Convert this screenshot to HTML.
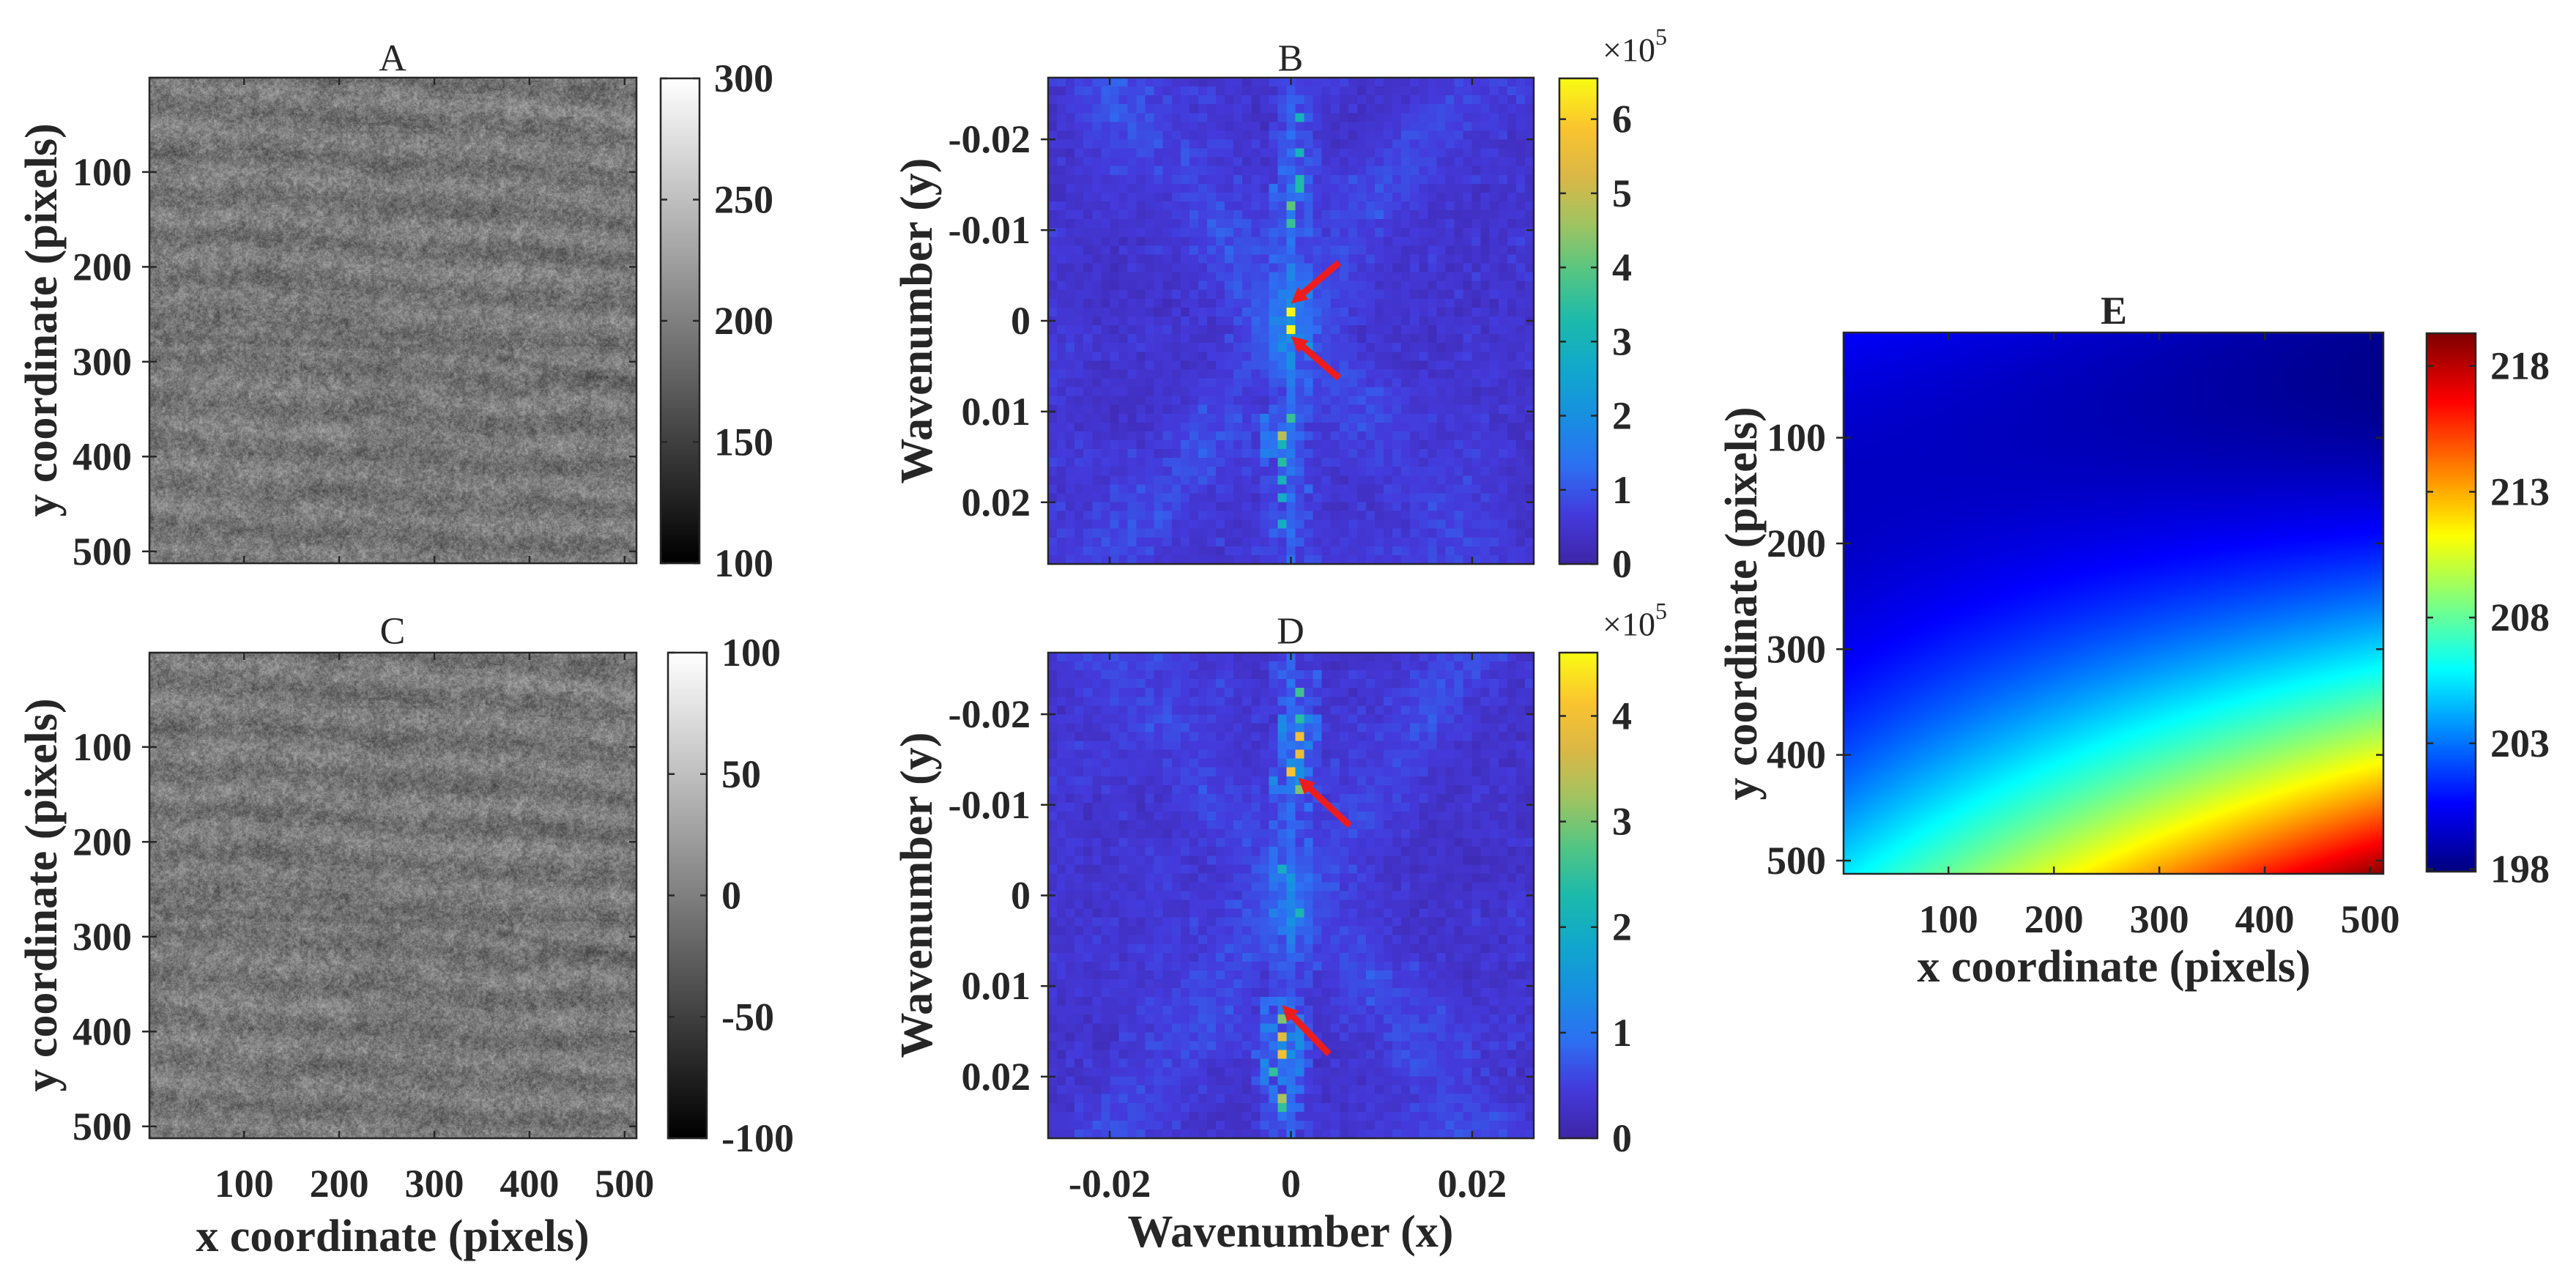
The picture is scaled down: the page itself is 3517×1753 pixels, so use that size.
<!DOCTYPE html>
<html><head><meta charset="utf-8">
<style>
html,body{margin:0;padding:0;background:#fff;}
#root{position:relative;width:3517px;height:1753px;overflow:hidden;background:#fff;font-family:"Liberation Serif",serif;}
canvas{position:absolute;display:block;}
svg{position:absolute;left:0;top:0;}
</style></head>
<body>
<div id="root">
<canvas id="cvA" width="512" height="512" style="left:204px;top:106px;width:665px;height:663px"></canvas>
<canvas id="cvC" width="512" height="512" style="left:204px;top:891px;width:665px;height:663px"></canvas>
<canvas id="cvB" width="55" height="55" style="left:1431px;top:106px;width:663px;height:664px;image-rendering:pixelated"></canvas>
<canvas id="cvD" width="55" height="55" style="left:1431px;top:891px;width:663px;height:663px;image-rendering:pixelated"></canvas>
<canvas id="cvE" width="256" height="256" style="left:2517px;top:454px;width:737px;height:739px"></canvas>
<canvas id="cbA" width="1" height="256" style="left:902px;top:107px;width:53px;height:662px"></canvas>
<canvas id="cbC" width="1" height="256" style="left:912px;top:891px;width:53px;height:663px"></canvas>
<canvas id="cbB" width="1" height="256" style="left:2129px;top:107px;width:52px;height:663px"></canvas>
<canvas id="cbD" width="1" height="256" style="left:2129px;top:891px;width:52px;height:663px"></canvas>
<canvas id="cbE" width="1" height="256" style="left:3313px;top:455px;width:67px;height:735px"></canvas>
<svg id="ov" width="3517" height="1753" viewBox="0 0 3517 1753"></svg>
</div>
<script>
// ---------- data ----------
var pixelTicks = [100, 200, 300, 400, 500];
var waveTicksY = [-0.02, -0.01, 0, 0.01, 0.02];
var waveTicksX = [-0.02, 0, 0.02];
var cbTicksA = [100, 150, 200, 250, 300];
var cbTicksC = [-100, -50, 0, 50, 100];
var cbTicksB = [0, 1, 2, 3, 4, 5, 6];
var cbTicksD = [0, 1, 2, 3, 4];
var cbTicksE = [198, 203, 208, 213, 218];
var rangeB = [0, 6.55];
var rangeD = [0, 4.6];
var rangeE = [197.9, 219.3];
var waveLimit = 0.0268;
// spectral peaks (ky, kx, value x1e5)
var peaksB_ky = [-0.0228, -0.0183, -0.0158, -0.0142, -0.0130, -0.0109, -0.0012, 0.0008, 0.0105, 0.0123, 0.0134, 0.0154, 0.0175, 0.0191, 0.0222];
var peaksB_kx = [0.0005, 0.0005, 0.0005, 0.0005, 0.0000, 0.0000, 0.0000, 0.0000, -0.0001, -0.0010, -0.0010, -0.0010, -0.0010, -0.0010, -0.0010];
var peaksB_val = [3.0, 3.0, 3.3, 3.3, 4.0, 3.6, 6.5, 6.5, 3.6, 4.8, 3.0, 3.4, 3.0, 2.8, 2.8];
var peaksD_ky = [-0.0227, -0.0198, -0.0179, -0.0158, -0.0140, -0.0121, -0.0025, 0.0015, 0.0132, 0.0153, 0.0172, 0.0195, 0.0221, 0.0235];
var peaksD_kx = [0.0007, 0.0012, 0.0007, 0.0007, -0.0003, 0.0007, -0.0010, 0.0007, -0.0010, -0.0010, -0.0010, -0.0015, -0.0010, -0.0010];
var peaksD_val = [2.6, 2.4, 4.0, 3.9, 4.1, 3.0, 2.0, 2.2, 3.0, 3.8, 4.0, 2.5, 3.3, 2.5];
// trend surface coefficients: c0 + c1 u + c2 w + c3 w^2 + c4 u w^1.5
var surfaceCoeffs = [200.5, -2.2, -8.0, 13.0, 15.7];
// arrows [x1,y1,x2(tip),y2(tip)] in data units of the spectra (kx, ky)
var arrowsB = [[0.0053, -0.0064, 0.0000, -0.0019], [0.0053, 0.0063, 0.0000, 0.0017]];
var arrowsD = [[0.0065, -0.0077, 0.0008, -0.0130], [0.0042, 0.0175, -0.0010, 0.0121]];

// ---------- helpers ----------
function hash(i, j, s) { var h = Math.sin(i * 127.1 + j * 311.7 + s * 74.7) * 43758.5453; return h - Math.floor(h); }
function vnoise(x, y, s, sc) {
  var fx = x / sc, fy = y / sc, ix = Math.floor(fx), iy = Math.floor(fy), tx = fx - ix, ty = fy - iy;
  tx = tx * tx * (3 - 2 * tx); ty = ty * ty * (3 - 2 * ty);
  var a = hash(ix, iy, s), b = hash(ix + 1, iy, s), c = hash(ix, iy + 1, s), d = hash(ix + 1, iy + 1, s);
  return (a + (b - a) * tx) + ((c + (d - c) * tx) - (a + (b - a) * tx)) * ty - 0.5;
}
function lerpStops(stops, t) {
  t = Math.max(0, Math.min(1, t));
  for (var k = 1; k < stops.length; k++) {
    if (t <= stops[k][0]) {
      var a = stops[k - 1], b = stops[k], f = (t - a[0]) / (b[0] - a[0]);
      return [a[1] + (b[1] - a[1]) * f, a[2] + (b[2] - a[2]) * f, a[3] + (b[3] - a[3]) * f];
    }
  }
  var l = stops[stops.length - 1]; return [l[1], l[2], l[3]];
}
var parulaStops = [[0, 62, 38, 168], [0.1, 68, 58, 220], [0.2, 45, 112, 242], [0.3, 24, 143, 226], [0.4, 17, 168, 205], [0.5, 28, 186, 172], [0.6, 83, 197, 132], [0.7, 160, 196, 98], [0.8, 219, 184, 70], [0.9, 251, 196, 48], [1, 249, 251, 20]];
var jetStops = [[0, 0, 0, 128], [0.125, 0, 0, 255], [0.375, 0, 255, 255], [0.625, 255, 255, 0], [0.875, 255, 0, 0], [1, 128, 0, 0]];
function parula(t) { return lerpStops(parulaStops, t); }
function jet(t) { return lerpStops(jetStops, t); }
function gray(t) { t = Math.max(0, Math.min(1, t)); return [t * 255, t * 255, t * 255]; }

function drawColorbar(id, cmap) {
  var c = document.getElementById(id), ctx = c.getContext('2d'), im = ctx.createImageData(1, 256);
  for (var y = 0; y < 256; y++) { var col = cmap(1 - y / 255); im.data[y * 4] = col[0]; im.data[y * 4 + 1] = col[1]; im.data[y * 4 + 2] = col[2]; im.data[y * 4 + 3] = 255; }
  ctx.putImageData(im, 0, 0);
}

// ---------- grayscale texture (A, C) ----------
function drawTexture(id, seed) {
  var c = document.getElementById(id), ctx = c.getContext('2d'), N = 512, im = ctx.createImageData(N, N);
  for (var y = 0; y < N; y++) for (var x = 0; x < N; x++) {
    var n = (hash(x, y, 3) - 0.5) * 0.8 + vnoise(x, y, 5, 3) * 0.6 + vnoise(x, y, 6, 9) * 0.35;
    var warp = 14 * vnoise(x, y, 7, 120) + 8 * vnoise(x, y, 8, 50);
    var phase = (y - 0.06 * x + warp) / 44;
    var amp = 0.5 + 0.9 * (vnoise(x, y, 9, 90) + 0.5);
    var band = Math.sin(2 * Math.PI * phase) * amp;
    var v = 0.47 + 0.24 * n + 0.04 * band + 0.03 * vnoise(x, y, 10, 60);
    var sy = 272 + 0.05 * x + (x > 330 ? (x - 330) * 0.13 : 0);
    v -= 0.07 * Math.exp(-Math.pow((y - sy) / 5, 2));
    var g = Math.max(0, Math.min(255, v * 255));
    var p = (y * N + x) * 4; im.data[p] = g; im.data[p + 1] = g; im.data[p + 2] = g; im.data[p + 3] = 255;
  }
  ctx.putImageData(im, 0, 0);
}

// ---------- spectra (B, D) ----------
function drawSpectrum(id, ky, kx, val, range, seed, stripeBoost) {
  var c = document.getElementById(id), ctx = c.getContext('2d'), M = 55, im = ctx.createImageData(M, M);
  var dk = 2 * waveLimit / M, grid = [], R = range[1] - range[0];
  function idx(k) { return Math.max(0, Math.min(M - 1, Math.floor((k + waveLimit) / dk))); }
  var ci = idx(0);
  for (var r = 0; r < M; r++) {
    grid.push([]);
    for (var q = 0; q < M; q++) {
      var t = 0.02 + 0.05 * hash(q, r, seed) + 0.05 * hash(q, r, seed + 2) * hash(q + 1, r, seed + 3);
      var d1 = Math.abs((q - ci) + (r - 27) * 0.75), d2 = Math.abs((q - ci) - (r - 27) * 0.8);
      t += 0.05 * Math.exp(-d1 * d1 / 30) + 0.045 * Math.exp(-d2 * d2 / 30);
      t += 0.04 * (vnoise(q, r, seed + 4, 6) + 0.5);
      var dq = Math.abs(q - ci);
      if (dq === 0) t += stripeBoost * (0.6 + 0.8 * hash(q, r, seed + 6));
      else if (dq <= 2) t += 0.07 * hash(q, r, seed + 5);
      grid[r].push(range[0] + t * R);
    }
  }
  for (var i = 0; i < ky.length; i++) {
    var r = idx(ky[i]), q = idx(kx[i]);
    for (var dr = -2; dr <= 2; dr++) for (var dq = -2; dq <= 2; dq++) {
      var rr = r + dr, qq = q + dq; if (rr < 0 || rr >= M || qq < 0 || qq >= M) continue;
      var w = (dr === 0 && dq === 0) ? 1 : 0.25 * hash(rr, qq, seed + 9) + 0.1;
      grid[rr][qq] = Math.max(grid[rr][qq], val[i] * w);
    }
  }
  for (var r = 0; r < M; r++) for (var q = 0; q < M; q++) {
    var col = parula((grid[r][q] - range[0]) / R), p = (r * M + q) * 4;
    im.data[p] = col[0]; im.data[p + 1] = col[1]; im.data[p + 2] = col[2]; im.data[p + 3] = 255;
  }
  ctx.putImageData(im, 0, 0);
}

// ---------- surface (E) ----------
function drawSurface(id) {
  var c = document.getElementById(id), ctx = c.getContext('2d'), N = 256, im = ctx.createImageData(N, N), k = surfaceCoeffs;
  for (var y = 0; y < N; y++) for (var x = 0; x < N; x++) {
    var u = x / (N - 1), w = y / (N - 1);
    var v = k[0] + k[1] * u + k[2] * w + k[3] * w * w + k[4] * u * Math.pow(w, 1.5);
    var col = jet((v - rangeE[0]) / (rangeE[1] - rangeE[0])), p = (y * N + x) * 4;
    im.data[p] = col[0]; im.data[p + 1] = col[1]; im.data[p + 2] = col[2]; im.data[p + 3] = 255;
  }
  ctx.putImageData(im, 0, 0);
}

drawTexture('cvA', 1); drawTexture('cvC', 1);
drawSpectrum('cvB', peaksB_ky, peaksB_kx, peaksB_val, rangeB, 11, 0.1);
drawSpectrum('cvD', peaksD_ky, peaksD_kx, peaksD_val, rangeD, 21, 0.1);
drawSurface('cvE');
drawColorbar('cbA', gray); drawColorbar('cbC', gray);
drawColorbar('cbB', parula); drawColorbar('cbD', parula); drawColorbar('cbE', jet);

// ---------- SVG overlay ----------
var NS = 'http://www.w3.org/2000/svg', svg = document.getElementById('ov');
function el(tag, attrs, parent) { var e = document.createElementNS(NS, tag); for (var a in attrs) e.setAttribute(a, attrs[a]); (parent || svg).appendChild(e); return e; }
function txt(s, x, y, size, weight, anchor, name, rot) {
  var t = el('text', { x: x, y: y, 'font-size': size, 'font-weight': weight, 'text-anchor': anchor, 'dominant-baseline': 'central', fill: '#262626', 'font-family': 'Liberation Serif, serif' });
  if (rot) t.setAttribute('transform', 'rotate(-90 ' + x + ' ' + y + ')');
  t.textContent = s;
  
  
  return t;
}
function fmt(v) { return v === 0 ? '0' : String(v); }

function axes(P) {
  var g = el('g', {});
  
  
  el('rect', { x: P.x, y: P.y, width: P.w, height: P.h, fill: 'none', stroke: '#262626', 'stroke-width': 2.5 }, g);
  var sx = function (v) { return P.x + (v - P.xmin) / (P.xmax - P.xmin) * P.w; };
  var sy = function (v) { return P.y + (v - P.ymin) / (P.ymax - P.ymin) * P.h; };
  P.yt.forEach(function (v) {
    var y = sy(v);
    el('line', { x1: P.x, y1: y, x2: P.x + 10, y2: y, stroke: '#262626', 'stroke-width': 2.5 }, g);
    el('line', { x1: P.x + P.w, y1: y, x2: P.x + P.w - 10, y2: y, stroke: '#262626', 'stroke-width': 2.5 }, g);
    el('line', { x1: P.x - 10, y1: y, x2: P.x, y2: y, stroke: '#262626', 'stroke-width': 2.5 }, g);
    txt(fmt(v), P.x - 24, y, 54, 'bold', 'end', P.name + '-ytick-label');
  });
  P.xt.forEach(function (v) {
    var x = sx(v);
    el('line', { x1: x, y1: P.y + P.h, x2: x, y2: P.y + P.h - 10, stroke: '#262626', 'stroke-width': 2.5 }, g);
    el('line', { x1: x, y1: P.y, x2: x, y2: P.y + 10, stroke: '#262626', 'stroke-width': 2.5 }, g);
    if (P.xlab) txt(fmt(v), x, P.y + P.h + 62, 54, 'bold', 'middle', P.name + '-xtick-label');
  });
  return { sx: sx, sy: sy };
}
function colorbarAxis(C) {
  el('rect', { x: C.x, y: C.y, width: C.w, height: C.h, fill: 'none', stroke: '#262626', 'stroke-width': 2.5 });
  C.ticks.forEach(function (v) {
    var y = C.y + C.h - (v - C.min) / (C.max - C.min) * C.h;
    el('line', { x1: C.x + C.w, y1: y, x2: C.x + C.w - 9, y2: y, stroke: '#262626', 'stroke-width': 2.5 });
    el('line', { x1: C.x, y1: y, x2: C.x + 9, y2: y, stroke: '#262626', 'stroke-width': 2.5 });
    txt(String(v), C.x + C.w + 20, y, 54, 'bold', 'start', C.name + '-tick-label');
  });
}
function arrow(a, S, name) {
  var x1 = S.sx(a[0]), y1 = S.sy(a[1]), x2 = S.sx(a[2]), y2 = S.sy(a[3]);
  var dx = x2 - x1, dy = y2 - y1, L = Math.sqrt(dx * dx + dy * dy), ux = dx / L, uy = dy / L, hl = 22, hw = 11;
  var bx = x2 - ux * hl, by = y2 - uy * hl;
  var g = el('g', {});
  
  
  el('line', { x1: x1, y1: y1, x2: bx, y2: by, stroke: '#ee1c1c', 'stroke-width': 9 }, g);
  el('polygon', { points: x2 + ',' + y2 + ' ' + (bx - uy * hw) + ',' + (by + ux * hw) + ' ' + (bx + uy * hw) + ',' + (by - ux * hw), fill: '#ee1c1c' }, g);
}

// Panel A
axes({ x: 204, y: 106, w: 665, h: 663, xmin: 0.5, xmax: 512.5, ymin: 0.5, ymax: 512.5, xt: pixelTicks, yt: pixelTicks, xlab: false, name: 'panel-a' });
txt('A', 536, 80, 52, 'normal', 'middle', 'panel-a-title');
txt('y coordinate (pixels)', 57, 437, 62, 'bold', 'middle', 'panel-a-y-axis-title', true);
colorbarAxis({ x: 902, y: 107, w: 53, h: 662, min: 100, max: 300, ticks: cbTicksA, name: 'colorbar-a' });
// Panel C
axes({ x: 204, y: 891, w: 665, h: 663, xmin: 0.5, xmax: 512.5, ymin: 0.5, ymax: 512.5, xt: pixelTicks, yt: pixelTicks, xlab: true, name: 'panel-c' });
txt('C', 536, 862, 52, 'normal', 'middle', 'panel-c-title');
txt('y coordinate (pixels)', 57, 1222, 62, 'bold', 'middle', 'panel-c-y-axis-title', true);
txt('x coordinate (pixels)', 536, 1688, 62, 'bold', 'middle', 'panel-c-x-axis-title');
colorbarAxis({ x: 912, y: 891, w: 53, h: 663, min: -100, max: 100, ticks: cbTicksC, name: 'colorbar-c' });
// Panel B
var SB = axes({ x: 1431, y: 106, w: 663, h: 664, xmin: -waveLimit, xmax: waveLimit, ymin: -waveLimit, ymax: waveLimit, xt: waveTicksX, yt: waveTicksY, xlab: false, name: 'panel-b' });
txt('B', 1762, 80, 52, 'normal', 'middle', 'panel-b-title');
txt('Wavenumber (y)', 1252, 438, 62, 'bold', 'middle', 'panel-b-y-axis-title', true);
colorbarAxis({ x: 2129, y: 107, w: 52, h: 663, min: rangeB[0], max: rangeB[1], ticks: cbTicksB, name: 'colorbar-b' });
var m1 = txt('×10', 2188, 68, 46, 'normal', 'start', 'colorbar-b-exponent');
var sup1 = el('tspan', { dy: -18, 'font-size': 32 }, m1); sup1.textContent = '5';
arrowsB.forEach(function (a, i) { arrow(a, SB, 'panel-b-arrow-' + (i + 1)); });
// Panel D
var SD = axes({ x: 1431, y: 891, w: 663, h: 663, xmin: -waveLimit, xmax: waveLimit, ymin: -waveLimit, ymax: waveLimit, xt: waveTicksX, yt: waveTicksY, xlab: true, name: 'panel-d' });
txt('D', 1762, 862, 52, 'normal', 'middle', 'panel-d-title');
txt('Wavenumber (y)', 1252, 1222, 62, 'bold', 'middle', 'panel-d-y-axis-title', true);
txt('Wavenumber (x)', 1762, 1682, 62, 'bold', 'middle', 'panel-d-x-axis-title');
colorbarAxis({ x: 2129, y: 891, w: 52, h: 663, min: rangeD[0], max: rangeD[1], ticks: cbTicksD, name: 'colorbar-d' });
var m2 = txt('×10', 2188, 852, 46, 'normal', 'start', 'colorbar-d-exponent');
var sup2 = el('tspan', { dy: -18, 'font-size': 32 }, m2); sup2.textContent = '5';
arrowsD.forEach(function (a, i) { arrow(a, SD, 'panel-d-arrow-' + (i + 1)); });
// Panel E
axes({ x: 2517, y: 454, w: 737, h: 739, xmin: 0.5, xmax: 512.5, ymin: 0.5, ymax: 512.5, xt: pixelTicks, yt: pixelTicks, xlab: true, name: 'panel-e' });
txt('E', 2886, 424, 54, 'bold', 'middle', 'panel-e-title');
txt('y coordinate (pixels)', 2378, 824, 62, 'bold', 'middle', 'panel-e-y-axis-title', true);
txt('x coordinate (pixels)', 2886, 1320, 62, 'bold', 'middle', 'panel-e-x-axis-title');
colorbarAxis({ x: 3313, y: 455, w: 67, h: 735, min: rangeE[0], max: rangeE[1], ticks: cbTicksE, name: 'colorbar-e' });
</script>
</body></html>
